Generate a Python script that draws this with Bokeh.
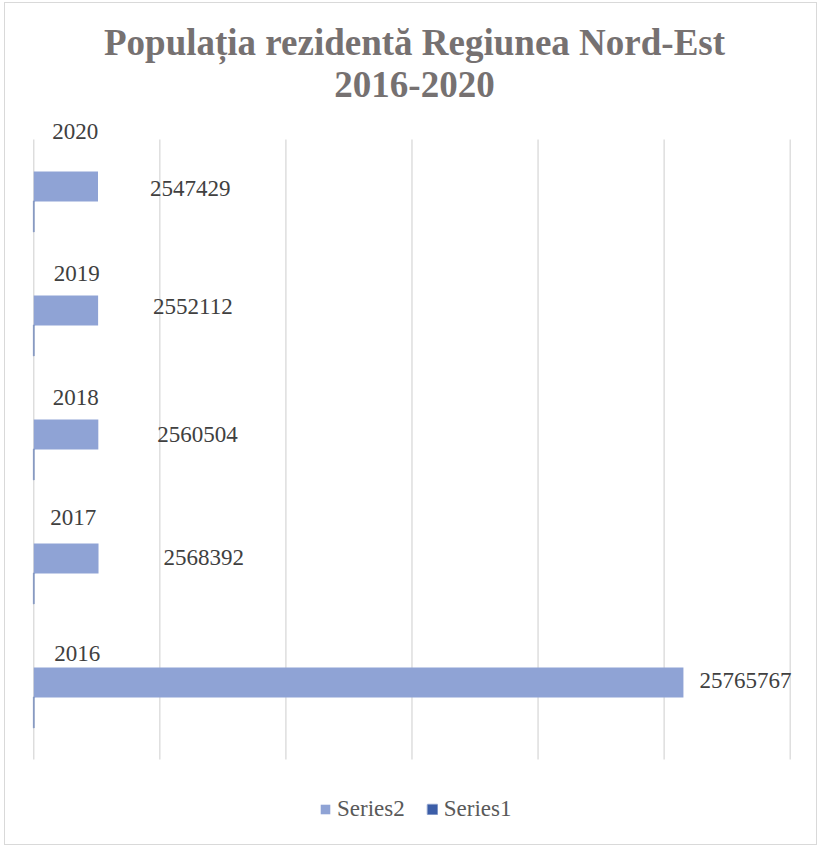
from bokeh.plotting import figure
from bokeh.models import ColumnDataSource, Range1d, Legend, LegendItem, Title
from bokeh.core.properties import value
from bokeh.embed import file_html
from bokeh.resources import INLINE

# ---- data ----
years = ["2016", "2017", "2018", "2019", "2020"]
series1 = [2016, 2017, 2018, 2019, 2020]
series2 = [25765767, 2568392, 2560504, 2552112, 2547429]
grid_ticks = [0, 5000000, 10000000, 15000000, 20000000, 25000000, 30000000]

# ---- layout of the (manually moved) data labels, in px ----
s2_label_dx = [16, 65, 59, 55, 52]
s2_label_dy = [-2, -1, 0, -4, 2]
s1_label_dx = [43.5, 39.5, 42, 43, 41.5]
s1_label_dy = [-44, -56, -52, -52, -70]

C2 = "#8FA3D5"
C1 = "#3C5EA8"
FONT = "Liberation Serif"
BAR_H = 0.242          # bar thickness, in category bands
HALF = BAR_H / 2

pos = list(range(len(years)))   # category slot of each year (2016 at bottom)

src = ColumnDataSource(dict(
    year=years,
    pos=pos,
    pos2=[v + HALF for v in pos],
    pos1=[v - HALF for v in pos],
    s1=series1,
    s2=series2,
    s1_text=[str(v) for v in series1],
    s2_text=[str(v) for v in series2],
    s2_dx=s2_label_dx,
    s2_dy=s2_label_dy,
    s1_dx=s1_label_dx,
    s1_dy=s1_label_dy,
))

n = len(years)
p = figure(width=813, height=843,
           y_range=Range1d(-0.5 - 0.621, n - 0.5 + 0.2903),
           x_range=Range1d(-50000, 30250000),
           output_backend="svg", toolbar_location=None,
           min_border_left=27, min_border_right=22,
           min_border_top=100, min_border_bottom=10,
           styles={"border": "1px solid #d9d9d9", "margin-left": "4px", "margin-top": "2px"})

p.outline_line_color = None
p.background_fill_color = "white"
p.border_fill_color = "white"
p.xaxis.visible = False
p.yaxis.visible = False
p.xgrid.visible = False
p.ygrid.visible = False

# vertical gridlines spanning the category bands only
p.segment(x0=grid_ticks, x1=grid_ticks, y0=[-0.5] * len(grid_ticks),
          y1=[n - 0.5] * len(grid_ticks), line_color="#d9d9d9", line_width=1.3)

p.title.text = "Populația rezidentă Regiunea Nord-Est"
p.title.align = "center"
p.title.text_font = FONT
p.title.text_font_size = "37px"
p.title.text_font_style = "bold"
p.title.text_color = "#767171"
p.title.standoff = 0

sub = Title(text="2016-2020", align="center", text_font=FONT, text_font_size="37px",
            text_font_style="bold", text_color="#767171", standoff=14)
p.add_layout(sub, "above")

r2 = p.hbar(y="pos2", right="s2", left=0, height=BAR_H, source=src,
            fill_color=C2, line_color=None)
r1 = p.hbar(y="pos1", right="s1", left=0, height=BAR_H, source=src,
            fill_color=C1, line_color=C1, line_width=2, line_alpha=0.5)

p.text(x="s2", y="pos2", text="s2_text",
       x_offset="s2_dx", y_offset="s2_dy", source=src,
       text_font=value(FONT), text_font_size="23px", text_color="#404040",
       text_align="left", text_baseline="middle")
p.text(x="s1", y="pos", text="s1_text",
       x_offset="s1_dx", y_offset="s1_dy", source=src,
       text_font=value(FONT), text_font_size="23px", text_color="#404040",
       text_align="center", text_baseline="middle")

legend = Legend(items=[LegendItem(label="Series2", renderers=[r2]),
                       LegendItem(label="Series1", renderers=[r1])],
                orientation="horizontal", location=(287, 14),
                glyph_width=12, glyph_height=12, label_standoff=6, spacing=21,
                padding=0, margin=0,
                label_text_font=FONT, label_text_font_size="23px",
                label_text_color="#595959",
                border_line_color=None, background_fill_alpha=0)
p.add_layout(legend, "center")

open("out.html", "w").write(file_html(p, INLINE))
